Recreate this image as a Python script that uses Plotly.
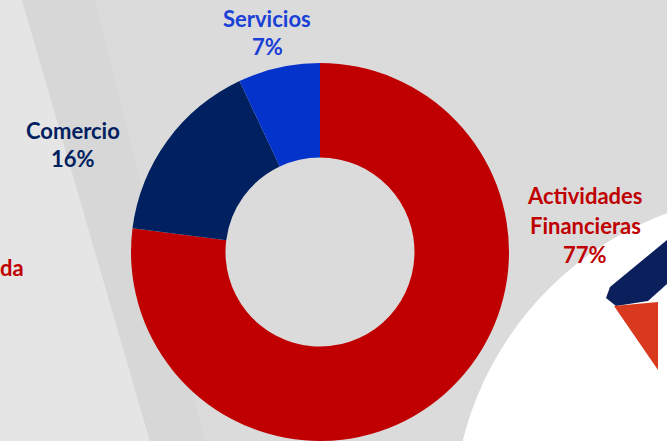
import plotly.graph_objects as go

# ---- data ----
categories = ["Actividades Financieras", "Comercio", "Servicios"]
values = [77, 16, 7]
slice_colors = ["#C00000", "#002060", "#0433CC"]
label_lines = [["Actividades", "Financieras", "77%"], ["Comercio", "16%"], ["Servicios", "7%"]]
label_colors = ["#C00000", "#002060", "#1A3FD6"]
cut_label = "da"

W, H = 667, 441

def px(x):
    return x / W

def py(y):
    return 1 - y / H

fig = go.Figure()
fig.add_trace(go.Pie(
    labels=categories,
    values=values,
    marker=dict(colors=slice_colors, line=dict(width=0)),
    hole=0.5,
    sort=False,
    direction="clockwise",
    rotation=0,
    textinfo="none",
    hoverinfo="label+percent",
    showlegend=False,
    domain=dict(x=[px(130), px(510)], y=[0, py(63)]),
))

# ---- labels (one annotation per line) ----
label_pos = [(585, [195, 225, 254]), (73, [130, 158]), (267, [18, 47])]
font_family = "Lato, 'Open Sans', sans-serif"
FS = 22
annotations = []
for lines, color, (cx, ys) in zip(label_lines, label_colors, label_pos):
    for line, yy in zip(lines, ys):
        annotations.append(dict(
            x=px(cx), y=py(yy), xref="paper", yref="paper",
            text="<b>%s</b>" % line, showarrow=False,
            xanchor="center", yanchor="middle",
            font=dict(family=font_family, size=FS, color=color),
        ))
annotations.append(dict(
    x=px(-2), y=py(267), xref="paper", yref="paper",
    text="<b>%s</b>" % cut_label, showarrow=False,
    xanchor="left", yanchor="middle",
    font=dict(family=font_family, size=FS, color="#C00000"),
))

# ---- decorative background ----
def path(points):
    return "M " + " L ".join("%f,%f" % (px(x), py(y)) for x, y in points) + " Z"

shapes = [
    dict(type="path", xref="paper", yref="paper", layer="below",
         path=path([(0, 0), (22, 0), (150, 441), (0, 441)]),
         fillcolor="#e5e5e5", line=dict(width=0)),
    dict(type="path", xref="paper", yref="paper", layer="below",
         path=path([(22, 0), (95, 0), (205, 441), (150, 441)]),
         fillcolor="#d7d7d7", line=dict(width=0)),
    dict(type="circle", xref="paper", yref="paper", layer="below",
         x0=px(780 - 327), x1=px(780 + 327), y0=py(520 + 327), y1=py(520 - 327),
         fillcolor="#ffffff", line=dict(width=0)),
    dict(type="path", xref="paper", yref="paper", layer="below",
         path=path([(667, 240), (667, 284), (648, 301), (616, 306), (606, 298), (610, 287)]),
         fillcolor="#0b1f5c", line=dict(width=0)),
    dict(type="path", xref="paper", yref="paper", layer="below",
         path=path([(614, 306), (658, 302), (658, 370)]),
         fillcolor="#d93a1e", line=dict(width=0)),
]

fig.update_layout(
    width=W, height=H,
    margin=dict(l=0, r=0, t=0, b=0),
    paper_bgcolor="#dbdbdb",
    plot_bgcolor="#dbdbdb",
    annotations=annotations,
    shapes=shapes,
)

fig.write_html("out.html", config={"displayModeBar": False},
               post_script="document.body.style.margin='0';document.body.style.overflow='hidden';")
